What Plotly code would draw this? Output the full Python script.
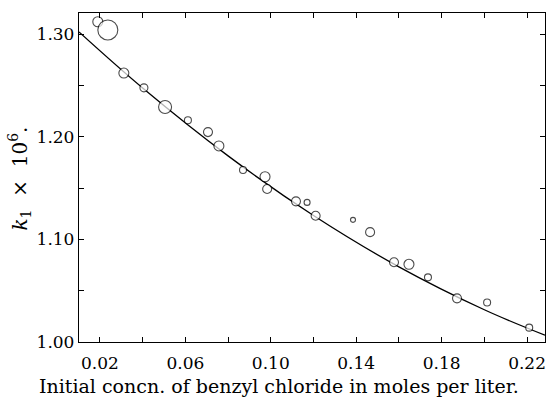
import plotly.graph_objects as go

# measured points
conc = [0.019, 0.0237, 0.0312, 0.0406, 0.0505, 0.0612, 0.0706, 0.0757, 0.087, 0.0973,
        0.0983, 0.1118, 0.117, 0.121, 0.1385, 0.1465, 0.1577, 0.1647, 0.1736, 0.1872,
        0.2013, 0.221]
k1 = [1.312, 1.304, 1.262, 1.2476, 1.229, 1.216, 1.2045, 1.191, 1.1675, 1.161,
      1.149, 1.137, 1.136, 1.123, 1.119, 1.107, 1.0777, 1.0757, 1.063, 1.0425,
      1.0385, 1.014]
marker_diam = [10, 20, 10, 8, 13, 7, 9, 10, 7, 10, 9, 9, 6, 9, 5, 9, 9, 10, 7, 9, 7, 7]

# smooth curve
curve_x = [0.0102, 0.04, 0.08, 0.12, 0.16, 0.20, 0.2284]
curve_y = [1.302, 1.2474, 1.1813, 1.1232, 1.0732, 1.0314, 1.0066]

x_tickvals = [0.02, 0.04, 0.06, 0.08, 0.10, 0.12, 0.14, 0.16, 0.18, 0.20, 0.22]
x_ticktext = ["0.02", "", "0.06", "", "0.10", "", "0.14", "", "0.18", "", "0.22"]
y_tickvals = [1.00, 1.05, 1.10, 1.15, 1.20, 1.25, 1.30]
y_ticktext = ["1.00", "", "1.10", "", "1.20", "", "1.30"]

font_fam = "DejaVu Serif, Liberation Serif, serif"

fig = go.Figure()
fig.add_trace(go.Scatter(x=curve_x, y=curve_y, mode="lines",
                         line=dict(color="black", width=1.3, shape="spline", smoothing=1.0),
                         hoverinfo="skip", showlegend=False))
fig.add_trace(go.Scatter(x=conc, y=k1, mode="markers",
                         marker=dict(size=marker_diam, color="white",
                                     line=dict(color="black", width=1.1)),
                         showlegend=False))

fig.update_layout(
    width=546, height=399,
    margin=dict(l=79, r=1, t=13, b=57),
    paper_bgcolor="white", plot_bgcolor="white",
    font=dict(family=font_fam, color="black", size=17),
)
fig.update_xaxes(range=[0.0102, 0.2284], tickvals=x_tickvals, ticktext=x_ticktext,
                 ticks="inside", ticklen=5, tickcolor="black", showgrid=False,
                 zeroline=False, showline=True, linecolor="black", linewidth=1.3,
                 mirror="ticks", tickfont=dict(size=17), automargin=False,
                 ticklabelstandoff=5)
fig.update_yaxes(range=[1.0, 1.3205], tickvals=y_tickvals, ticktext=y_ticktext,
                 ticks="inside", ticklen=5, tickcolor="black", showgrid=False,
                 zeroline=False, showline=True, linecolor="black", linewidth=1.3,
                 mirror="ticks", tickfont=dict(size=17), automargin=False)

fig.add_annotation(text="Initial concn. of benzyl chloride in moles per liter.",
                   xref="paper", yref="paper", x=0.429, y=-0.094, xanchor="center",
                   yanchor="top", showarrow=False, font=dict(size=19))
fig.add_annotation(text="<i>k</i><sub>1</sub>  ×  10<sup>6</sup>.",
                   xref="paper", yref="paper", x=-0.128, y=0.498, xanchor="center",
                   yanchor="middle", showarrow=False, textangle=-90,
                   font=dict(size=20))

fig.write_html("out.html", config={"displayModeBar": False},
               post_script="document.body.style.margin='0';document.body.style.padding='0';")
